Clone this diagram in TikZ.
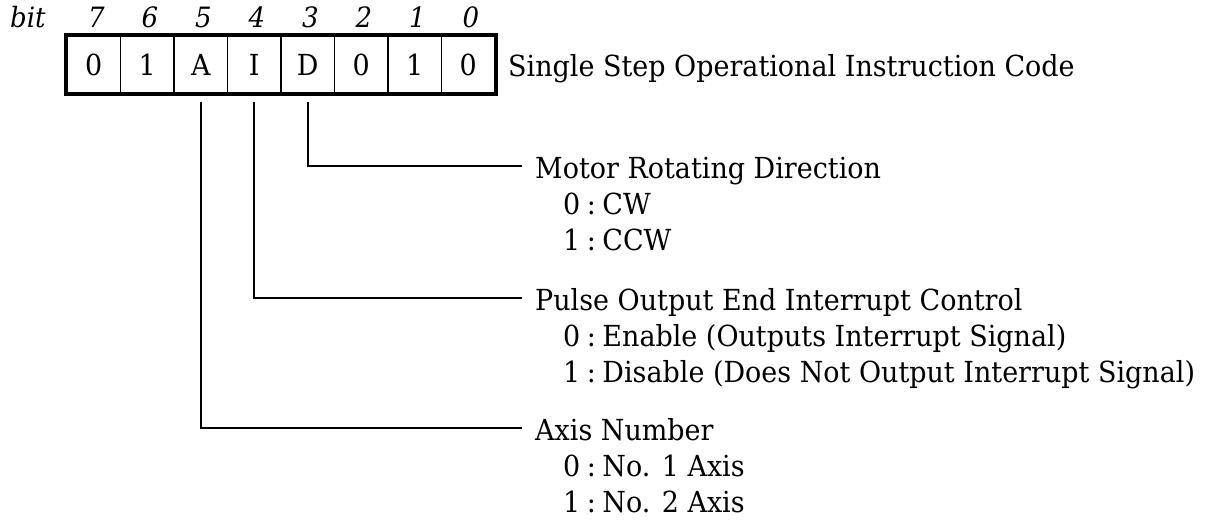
\documentclass[tikz,border=0pt]{standalone}
\usepackage{fontspec}
\setmainfont{DejaVu Serif}[FakeStretch=0.93]
\newcommand{\cs}{\hspace{6.5pt}:\hspace{6.5pt}}
\begin{document}
\begin{tikzpicture}[x=1pt,y=-1pt,
  txt/.style={anchor=base west, inner sep=0pt, font=\fontsize{29}{34}\selectfont},
  bitlbl/.style={anchor=base, inner sep=0pt, font=\fontsize{28}{34}\selectfont\itshape},
  cell/.style={draw, line width=1.6pt, minimum width=53.5pt, minimum height=57pt, inner sep=0pt, font=\fontsize{29}{34}\selectfont},
  frame/.style={line width=3.5pt},
  leader/.style={line width=2pt}]
\useasboundingbox (0,0) rectangle (1206,519);
% register cells
\foreach \b/\v [count=\i from 0] in {7/0,6/1,5/A,4/I,3/D,2/0,1/1,0/0}{
  \node[cell] (c\b) at (67+53.5*\i+26.75,64.5) {\v};
  \node[bitlbl] (b\b) at (67+53.5*\i+29.5,28) {\b};
}
\draw[frame] (c7.north west) rectangle (c0.south east);
\node[bitlbl, anchor=base west] (bitw) at (10,28) {bit};
\node[txt] (title) at (508,77) {Single Step Operational Instruction Code};
% descriptions
\node[txt] (motor) at (535,178) {Motor Rotating Direction};
\node[txt] (m0) at (563,214) {0\cs CW};
\node[txt] (m1) at (563,250) {1\cs CCW};
\node[txt] (pulse) at (535,310) {Pulse Output End Interrupt Control};
\node[txt] (p0) at (563,346) {0\cs Enable (Outputs Interrupt Signal)};
\node[txt] (p1) at (563,382) {1\cs Disable (Does Not Output Interrupt Signal)};
\node[txt] (axis) at (535,440) {Axis Number};
\node[txt] (a0) at (563,476) {0\cs No. 1 Axis};
\node[txt] (a1) at (563,512) {1\cs No. 2 Axis};
% leader endpoints
\coordinate (mEnd) at (522,166);
\coordinate (pEnd) at (522,298);
\coordinate (aEnd) at (522,428);
\draw[leader] ([yshift=-8pt]c3.south) |- (mEnd);
\draw[leader] ([yshift=-8pt]c4.south) |- (pEnd);
\draw[leader] ([yshift=-8pt]c5.south) |- (aEnd);
\end{tikzpicture}
\end{document}
